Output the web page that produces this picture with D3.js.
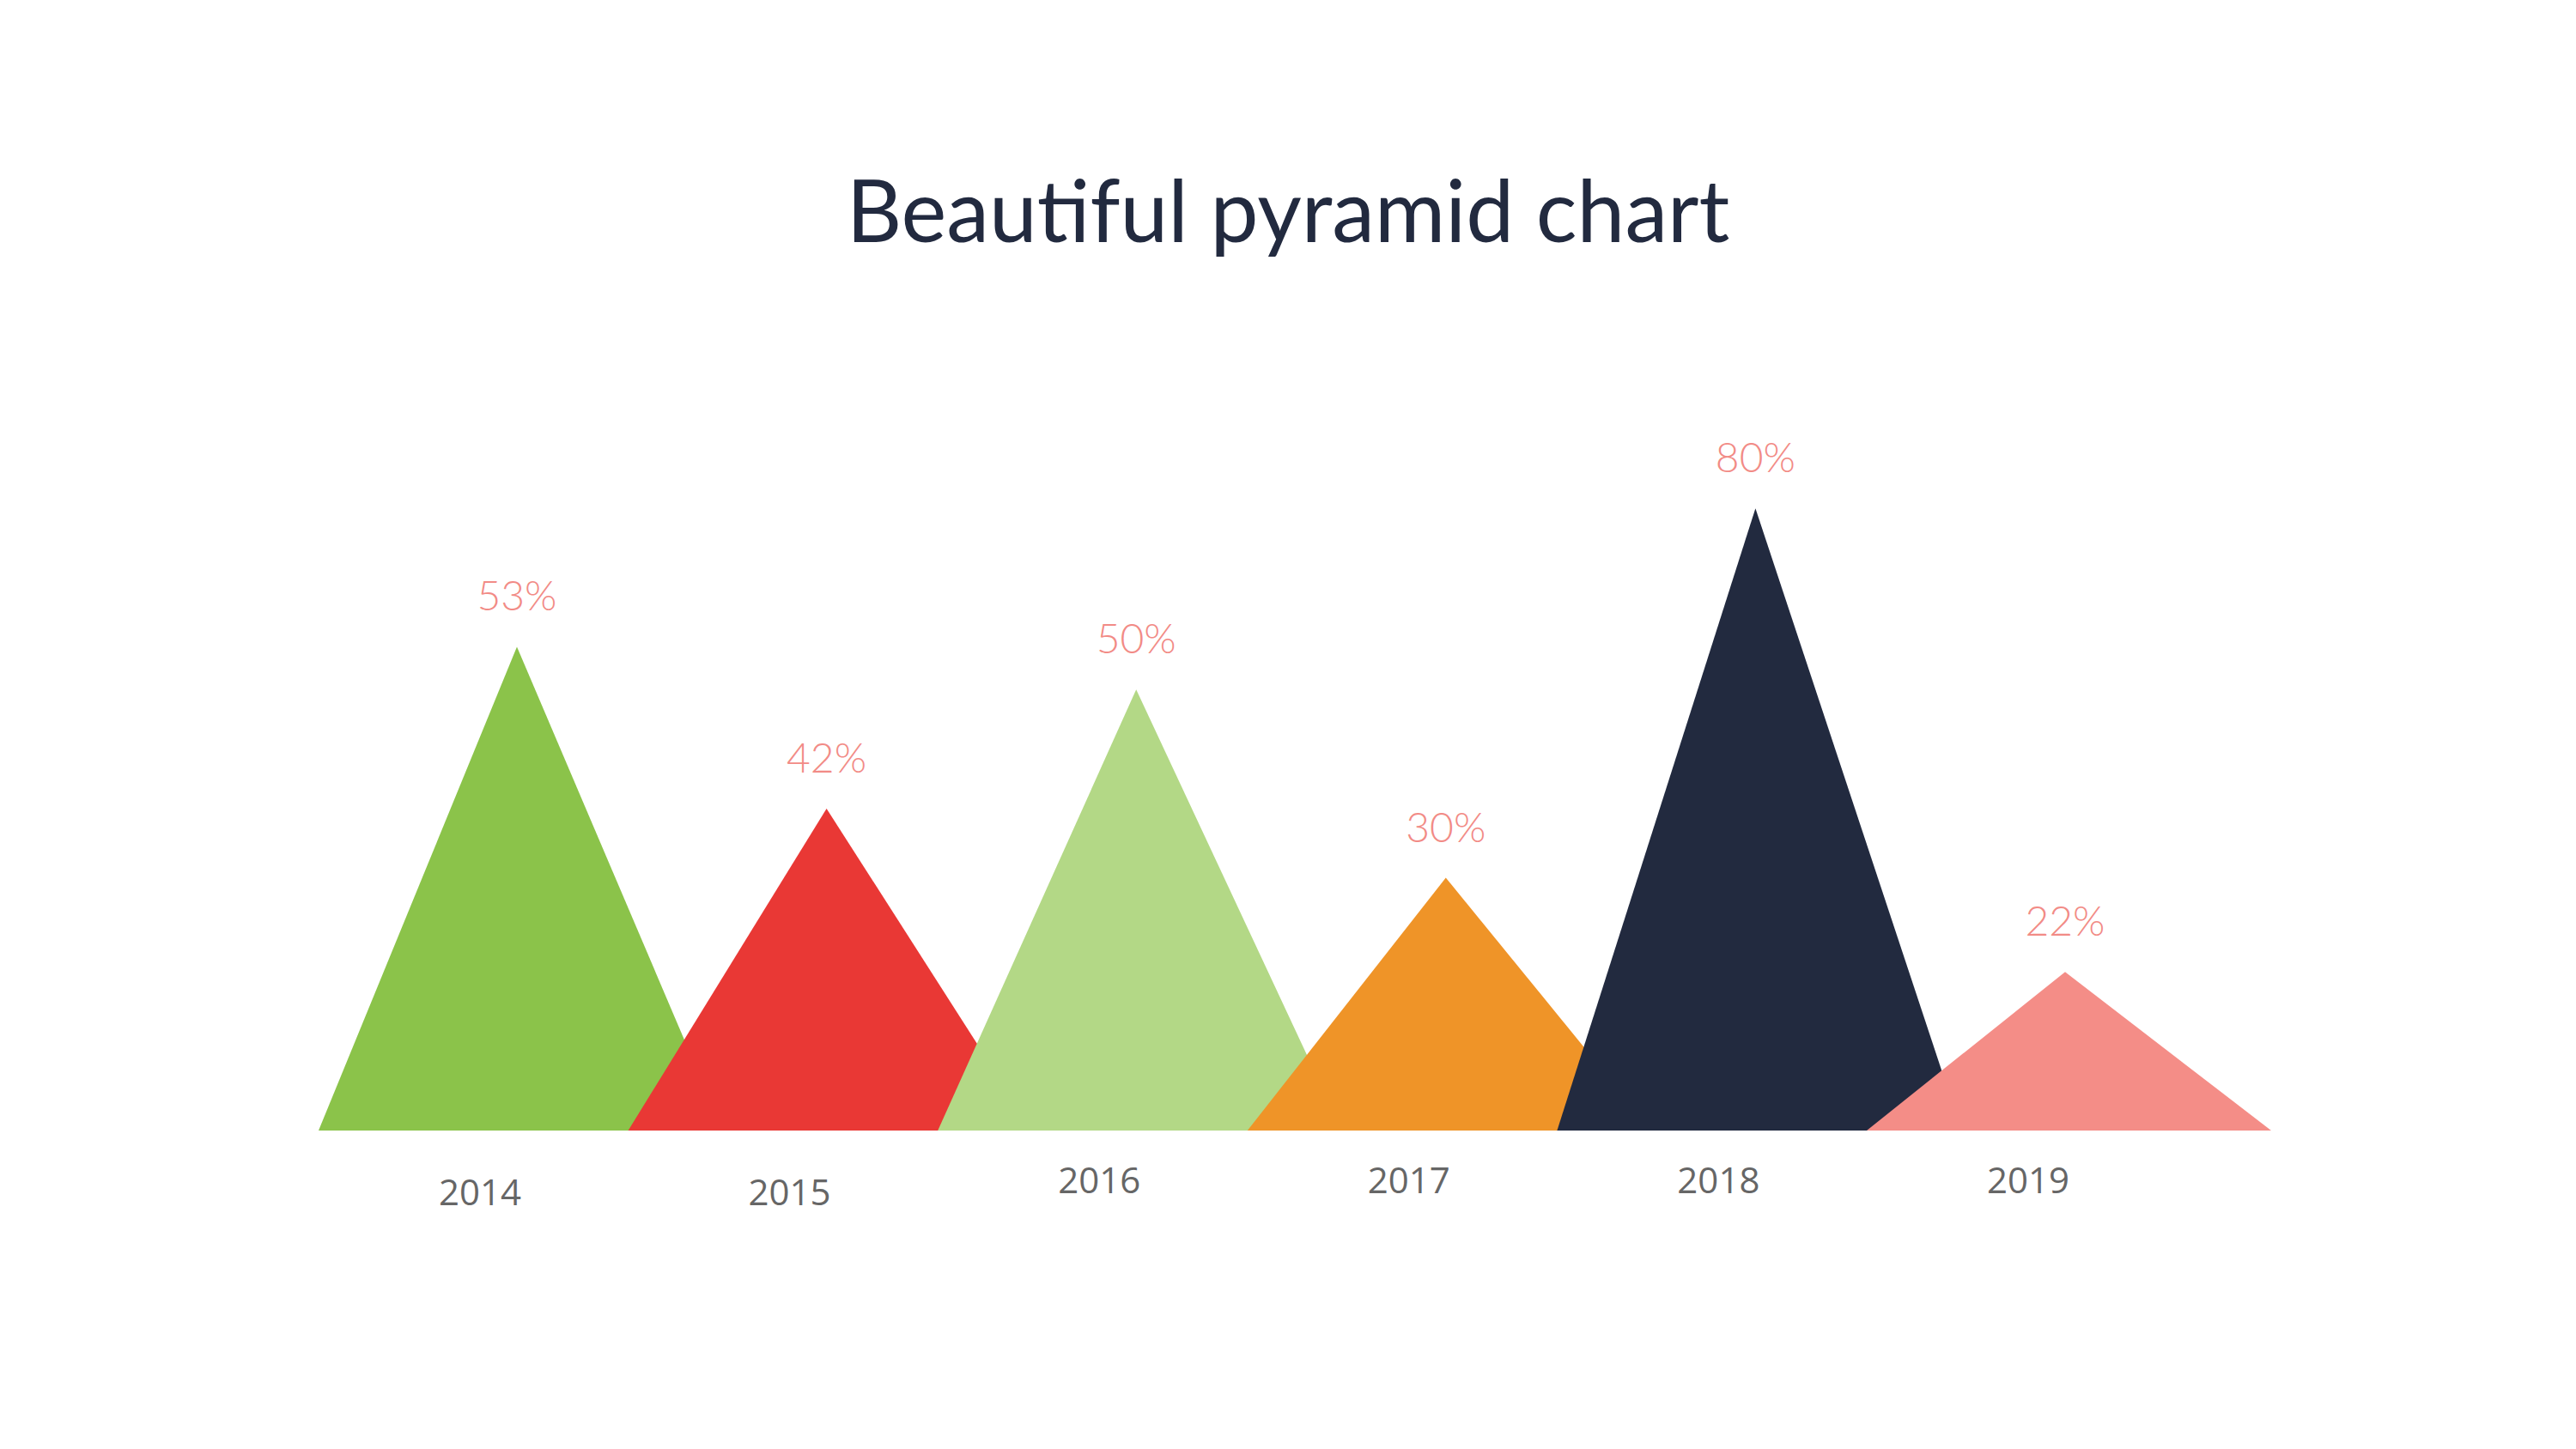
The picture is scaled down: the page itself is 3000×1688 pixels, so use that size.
<!DOCTYPE html>
<html>
<head>
<meta charset="utf-8">
<script src="https://cdn.jsdelivr.net/npm/d3@7"></script>
<style>
  body { margin: 0; background: #fff; }
</style>
</head>
<body>
<svg id="chart"></svg>
<script>
const years = ["2014", "2015", "2016", "2017", "2018", "2019"];
const values = [53, 42, 50, 30, 80, 22];
// peak heights as drawn in the reference (0-100 axis units)
const peakHeights = [62.2, 41.4, 56.7, 32.5, 80, 20.4];
const colors = ["#8bc34a", "#e93835", "#b3d886", "#ef9428", "#222a3f", "#f48d87"];

const width = 3000, height = 1688;
const baseY = 1317;
const triWidth = 471, apexOffset = 231;

const svg = d3.select("#chart").attr("width", width).attr("height", height);

const x = d3.scaleLinear().domain([0, years.length - 1]).range([371, 371 + 5 * 360.6]);
const y = d3.scaleLinear().domain([0, 100]).range([baseY, baseY - 906]);

svg.append("text")
  .attr("x", width / 2)
  .attr("y", 282)
  .attr("text-anchor", "middle")
  .attr("font-family", "Lato, 'Open Sans', sans-serif")
  .attr("font-size", 100)
  .attr("fill", "#222a3f")
  .text("Beautiful pyramid chart");

years.forEach((yr, i) => {
  const left = x(i);
  svg.append("path")
    .attr("d", `M${left},${baseY} L${left + apexOffset},${y(peakHeights[i])} L${left + triWidth},${baseY} Z`)
    .attr("fill", colors[i]);

  svg.append("text")
    .attr("x", left + apexOffset)
    .attr("y", y(peakHeights[i]) - 42)
    .attr("text-anchor", "middle")
    .attr("font-family", "Lato, 'Open Sans', sans-serif")
    .attr("font-weight", 300)
    .attr("font-size", 48)
    .attr("fill", "#f28b86")
    .text(values[i] + "%");

  svg.append("text")
    .attr("x", left + 188)
    .attr("y", i < 2 ? 1404 : 1390)
    .attr("text-anchor", "middle")
    .attr("font-family", "'Open Sans', sans-serif")
    .attr("font-size", 42)
    .attr("fill", "#666")
    .text(yr);
});
</script>
</body>
</html>
